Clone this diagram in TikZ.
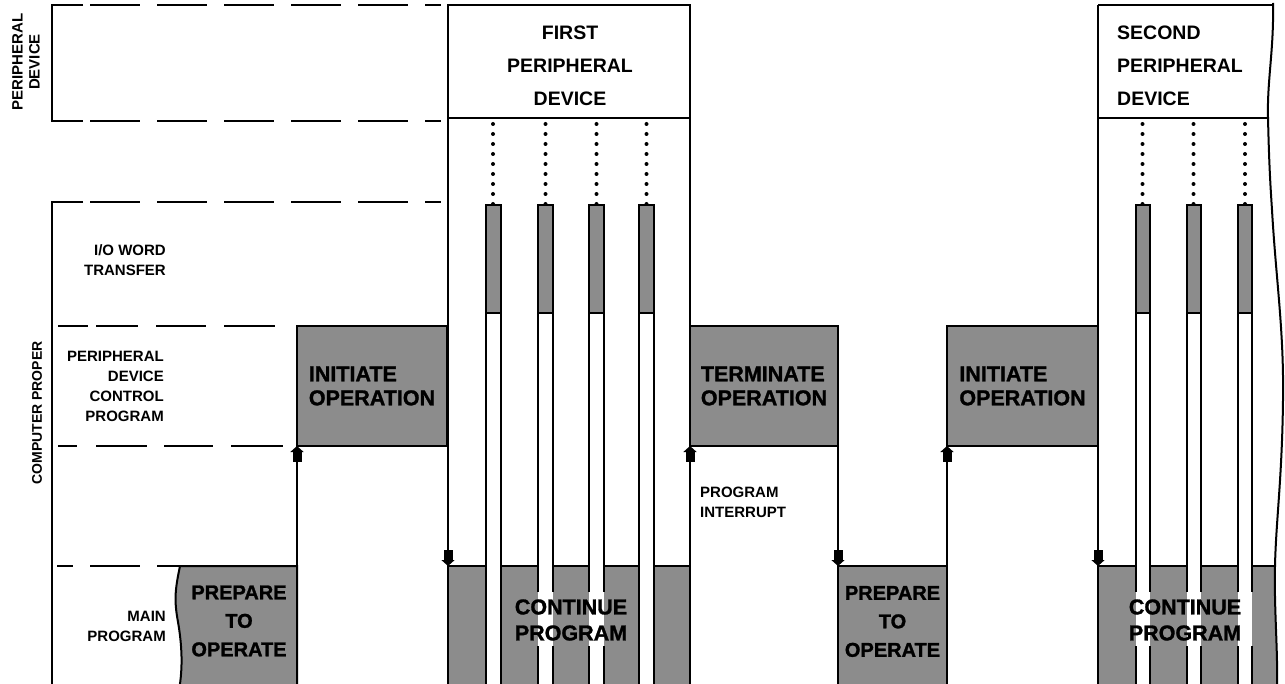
\documentclass[tikz,border=0pt]{standalone}
\usepackage{fontspec}
\setmainfont{Liberation Sans}
\newfontfamily\heavyfont{Liberation Sans}[BoldFeatures={FakeBold=1.3}]
\usetikzlibrary{arrows.meta}
\begin{document}
\begin{tikzpicture}[x=1pt,y=-1pt]
\tikzset{
 ln/.style={line width=2pt},
 dsh/.style={line width=2pt, dash pattern=on 50pt off 17pt},
 shd/.style={fill=black!45},
 lab/.style={font=\bfseries\fontsize{15}{20}\selectfont, inner sep=0pt},
 devt/.style={font=\bfseries\fontsize{19.5}{33}\selectfont, inner sep=0pt},
 bigt/.style={font=\heavyfont\bfseries\fontsize{21.5}{24}\selectfont, inner sep=0pt},
 prept/.style={font=\heavyfont\bfseries\fontsize{20}{28.5}\selectfont, inner sep=0pt, align=center},
 contt/.style={font=\heavyfont\bfseries\fontsize{21.5}{26}\selectfont, inner sep=0pt, align=center},
 sbox/.style={draw, ln, shd, rectangle, inner sep=0pt, outer sep=0pt},
 arr/.style={ln, -{Rectangle[length=10pt,width=9pt,sep=0pt]Triangle[length=6pt,width=13pt,sep=0pt]}},
 dots/.style={line width=4pt, line cap=round, dash pattern=on 0pt off 10pt, shorten <=6pt},
}
\useasboundingbox (0,0) rectangle (1285,684);
\fill[white] (0,0) rectangle (1285,684);

% left brackets and dashed rails
\draw[ln] (83,5) -- (52,5) -- (52,121) -- (83,121);
\draw[dsh] (90,5) -- (441,5);
\draw[dsh] (90,121) -- (441,121);
\draw[ln] (83,202) -- (52,202) -- (52,690);
\draw[dsh] (90,202) -- (441,202);
\draw[ln, dash pattern=on 30pt off 8pt on 42pt off 18pt on 50pt off 18pt on 51pt off 100pt] (58,326) -- (278,326);
\draw[ln, dash pattern=on 19pt off 19pt on 51pt off 17pt on 49pt off 18pt on 52pt off 100pt] (58,446) -- (283,446);
\draw[ln, dash pattern=on 16pt off 17pt on 50pt off 17pt on 30pt off 100pt] (57,566) -- (181,566);

% left labels
\node[lab, rotate=90, align=center, font=\bfseries\fontsize{15}{17}\selectfont] (lpd) at (26,62) {PERIPHERAL\\DEVICE};
\node[lab, rotate=90, font=\bfseries\fontsize{14}{17}\selectfont] (lcp) at (37,413) {COMPUTER PROPER};
\node[lab, align=right, anchor=east] (lio) at (166,260) {I/O WORD\\TRANSFER};
\node[lab, align=right, anchor=east] (lpdcp) at (164,386) {PERIPHERAL\\DEVICE\\CONTROL\\PROGRAM};
\node[lab, align=right, anchor=east] (lmain) at (166,626) {MAIN\\PROGRAM};
\node[lab, align=left, anchor=west] (lint) at (700,502) {PROGRAM\\INTERRUPT};

% peripheral device boxes
\node[draw, ln, minimum width=242pt, minimum height=113pt, inner sep=0pt, outer sep=0pt] (dev1) at (569,61.5) {};
\node[minimum width=180pt, minimum height=113pt, inner sep=0pt, outer sep=0pt, anchor=north west] (dev2) at (1098,5) {};
\draw[ln] (1273,5) -- (dev2.north west);
\draw[ln] (dev2.south west) -- (1268,118);

% shaded program boxes
\node[sbox, minimum width=150pt, minimum height=120pt] (init1) at (372,386) {};
\node[sbox, minimum width=148pt, minimum height=120pt] (term) at (764,386) {};
\node[sbox, minimum width=151pt, minimum height=120pt] (init2) at (1022.5,386) {};
\node[sbox, minimum width=109pt, minimum height=129pt] (prep2) at (892.5,630.5) {};
\node[sbox, minimum width=242pt, minimum height=129pt] (cont1) at (569,630.5) {};
\filldraw[ln, shd] (297,690) -- (297,566) -- (180,566) .. controls (175,590) and (174,600) .. (178,622) .. controls (182,645) and (183,668) .. (179,690) -- cycle;
\coordinate (prep1ne) at (297,566);
\fill[shd] (1098,566) -- (1275,566) .. controls (1274,610) and (1278,650) .. (1277,690) -- (1098,690) -- cycle;
\coordinate (cont2nw) at (1098,566);
\draw[ln] (1098,690) -- (cont2nw) -- (1275,566);

% wavy torn edge
\draw[ln] (1273,3) .. controls (1274,50) and (1267,80) .. (1268,118) .. controls (1269,160) and (1270,180) .. (1272,210) .. controls (1276,280) and (1284,330) .. (1283,400) .. controls (1282,480) and (1276,520) .. (1275,566) .. controls (1274,610) and (1278,650) .. (1277,690);

% word-transfer bars, first device
\foreach \c/\g in {493/0,545.5/1,596.5/1,646.5/0} {
  \fill[white] (\c-7.5,313) rectangle (\c+7.5,690);
  \filldraw[ln, shd] (\c-7.5,205) rectangle (\c+7.5,313);
  \ifnum\g=1
    \draw[ln] (\c-7.5,313) -- (\c-7.5,592) (\c-7.5,646) -- (\c-7.5,690);
    \draw[ln] (\c+7.5,313) -- (\c+7.5,592) (\c+7.5,646) -- (\c+7.5,690);
  \else
    \draw[ln] (\c-7.5,313) -- (\c-7.5,690);
    \draw[ln] (\c+7.5,313) -- (\c+7.5,690);
  \fi
  \coordinate (bt) at (\c,205);
  \draw[dots] (dev1.south -| bt) -- (bt);
}
% word-transfer bars, second device
\foreach \c in {1142.5,1193.5,1245} {
  \fill[white] (\c-7,313) rectangle (\c+7,690);
  \filldraw[ln, shd] (\c-7,205) rectangle (\c+7,313);
  \draw[ln] (\c-7,313) -- (\c-7,592) (\c-7,646) -- (\c-7,690);
  \draw[ln] (\c+7,313) -- (\c+7,592) (\c+7,646) -- (\c+7,690);
  \coordinate (bt) at (\c,205);
  \draw[dots] (dev2.south -| bt) -- (bt);
}

% connectors
\draw[arr] (prep1ne) -- (init1.south west);
\draw[arr] (dev1.north west) -- (cont1.north west);
\draw[ln] (dev1.south east) -- (term.north west);
\draw[arr] (cont1.south east) -- (term.south west);
\draw[arr] (term.south east) -- (prep2.north west);
\draw[arr] (prep2.south east) -- (init2.south west);
\draw[arr] (dev2.north west) -- (cont2nw);

% texts
\node[devt, align=center] (dev1t) at (570,66) {FIRST\\PERIPHERAL\\DEVICE};
\node[devt, align=left, anchor=west] (dev2t) at (1117,66) {SECOND\\PERIPHERAL\\DEVICE};
\node[bigt, align=left] (init1t) at (init1) {INITIATE\\OPERATION};
\node[bigt, align=left] (termt) at (term) {TERMINATE\\OPERATION};
\node[bigt, align=left] (init2t) at (init2) {INITIATE\\OPERATION};
\node[prept] (prep1t) at (239,621) {PREPARE\\TO\\OPERATE};
\node[prept] (prep2t) at (892.5,621.5) {PREPARE\\TO\\OPERATE};
\node[contt] (cont1t) at (571,620) {CONTINUE\\PROGRAM};
\node[contt] (cont2t) at (1185,620) {CONTINUE\\PROGRAM};
\end{tikzpicture}
\end{document}
